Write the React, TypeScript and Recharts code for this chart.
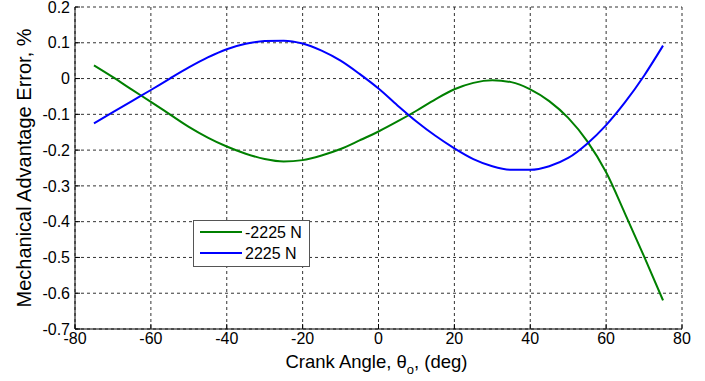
import React from 'react';
import { LineChart, Line, XAxis, YAxis, CartesianGrid, Legend, Label } from 'recharts';

const angles = [-75, -70, -65, -60, -55, -50, -45, -40, -35, -30, -25, -20, -15, -10, -5, 0, 5, 10, 15, 20, 25, 30, 35, 40, 45, 50, 55, 60, 65, 70, 75];
const errNeg2225 = [0.037, 0.004, -0.031, -0.065, -0.1, -0.135, -0.165, -0.19, -0.21, -0.225, -0.232, -0.228, -0.215, -0.197, -0.173, -0.148, -0.12, -0.09, -0.058, -0.03, -0.012, -0.005, -0.01, -0.03, -0.063, -0.11, -0.175, -0.262, -0.378, -0.497, -0.62];
const errPos2225 = [-0.125, -0.094, -0.063, -0.032, 0.0, 0.031, 0.059, 0.082, 0.097, 0.105, 0.106, 0.098, 0.078, 0.05, 0.013, -0.028, -0.075, -0.12, -0.16, -0.195, -0.225, -0.245, -0.255, -0.255, -0.245, -0.222, -0.182, -0.13, -0.066, 0.008, 0.092];
const seriesNames = ['-2225 N', '2225 N'];
const xTicks = [-80, -60, -40, -20, 0, 20, 40, 60, 80];
const yTicks = [-0.7, -0.6, -0.5, -0.4, -0.3, -0.2, -0.1, 0, 0.1, 0.2];
const yTickLabels = ['-0.7', '-0.6', '-0.5', '-0.4', '-0.3', '-0.2', '-0.1', '0', '0.1', '0.2'];

const data = angles.map((a, i) => ({ angle: a, neg: errNeg2225[i], pos: errPos2225[i] }));

const FONT = '"Liberation Sans", Arial, sans-serif';

const LegendBox = (props: any) => {
  const payload = props.payload || [];
  return (
    <svg width={118} height={48} style={{ display: 'block' }}>
      <rect x={0.5} y={0.5} width={116} height={46} fill="#fff" stroke="#555" strokeWidth={1} />
      {payload.map((p: any, i: number) => (
        <g key={i}>
          <line x1={7} x2={49} y1={12 + i * 21} y2={12 + i * 21} stroke={p.color} strokeWidth={2} />
          <text x={52} y={12 + i * 21} dy="0.36em" fontSize={16} fontFamily={FONT} fill="#000">{p.value}</text>
        </g>
      ))}
    </svg>
  );
};

const YLabel = (props: any) => {
  const vb = props.viewBox || {};
  const cx = vb.x + 31;
  const cy = vb.y + vb.height / 2;
  return (
    <text x={cx} y={cy} transform={`rotate(-90 ${cx} ${cy})`} textAnchor="middle" fontSize={20} fontFamily={FONT} fill="#000">
      Mechanical Advantage Error, %
    </text>
  );
};

const XLabel = (props: any) => {
  const vb = props.viewBox || {};
  const cx = vb.x + vb.width / 2 - 2;
  const y = vb.y + 39;
  return (
    <text x={cx} y={y} textAnchor="middle" fontSize={18.5} fontFamily={FONT} fill="#000">
      Crank Angle, θ<tspan fontSize={13} dy={6}>o</tspan><tspan dy={-6}>, (deg)</tspan>
    </text>
  );
};

export default function App() {
  return (
    <div style={{ position: 'absolute', left: 0, top: 0, width: 705, height: 381, background: '#fff' }}>
      <LineChart width={705} height={381} data={data} margin={{ top: 7, right: 23, bottom: 0, left: 0 }}>
        <CartesianGrid stroke="#333" strokeDasharray="3 3" strokeWidth={1} />
        <XAxis
          dataKey="angle"
          type="number"
          domain={[-80, 80]}
          ticks={xTicks}
          height={52}
          tickSize={-5}
          tickMargin={9}
          axisLine={{ stroke: '#000', strokeWidth: 1 }}
          tickLine={{ stroke: '#000' }}
          tick={{ fill: '#000', fontSize: 16, fontFamily: FONT }}
          interval={0}
        >
          <Label content={<XLabel />} />
        </XAxis>
        <XAxis
          xAxisId="top"
          orientation="top"
          type="number"
          domain={[-80, 80]}
          ticks={xTicks}
          height={0}
          tickSize={-5}
          axisLine={{ stroke: '#777', strokeWidth: 1 }}
          tickLine={{ stroke: '#000' }}
          tick={false}
        />
        <YAxis
          type="number"
          domain={[-0.7, 0.2]}
          ticks={yTicks}
          width={75}
          tickSize={-5}
          tickMargin={10}
          interval={0}
          axisLine={{ stroke: '#000', strokeWidth: 1 }}
          tickLine={{ stroke: '#000' }}
          tick={{ fill: '#000', fontSize: 16, fontFamily: FONT }}
          tickFormatter={(v: number, i: number) => yTickLabels[i]}
        >
          <Label content={<YLabel />} />
        </YAxis>
        <YAxis
          yAxisId="right"
          orientation="right"
          type="number"
          domain={[-0.7, 0.2]}
          ticks={yTicks}
          width={0}
          tickSize={-5}
          axisLine={{ stroke: '#777', strokeWidth: 1 }}
          tickLine={{ stroke: '#000' }}
          tick={false}
        />
        <Legend
          layout="vertical"
          align="center"
          verticalAlign="middle"
          content={<LegendBox />}
          wrapperStyle={{ position: 'absolute', left: 193, top: 220, width: 118, height: 48 }}
        />
        <Line type="monotone" dataKey="neg" name={seriesNames[0]} stroke="#008000" strokeWidth={2} dot={false} isAnimationActive={false} />
        <Line type="monotone" dataKey="pos" name={seriesNames[1]} stroke="#0000ff" strokeWidth={2} dot={false} isAnimationActive={false} />
      </LineChart>
    </div>
  );
}
